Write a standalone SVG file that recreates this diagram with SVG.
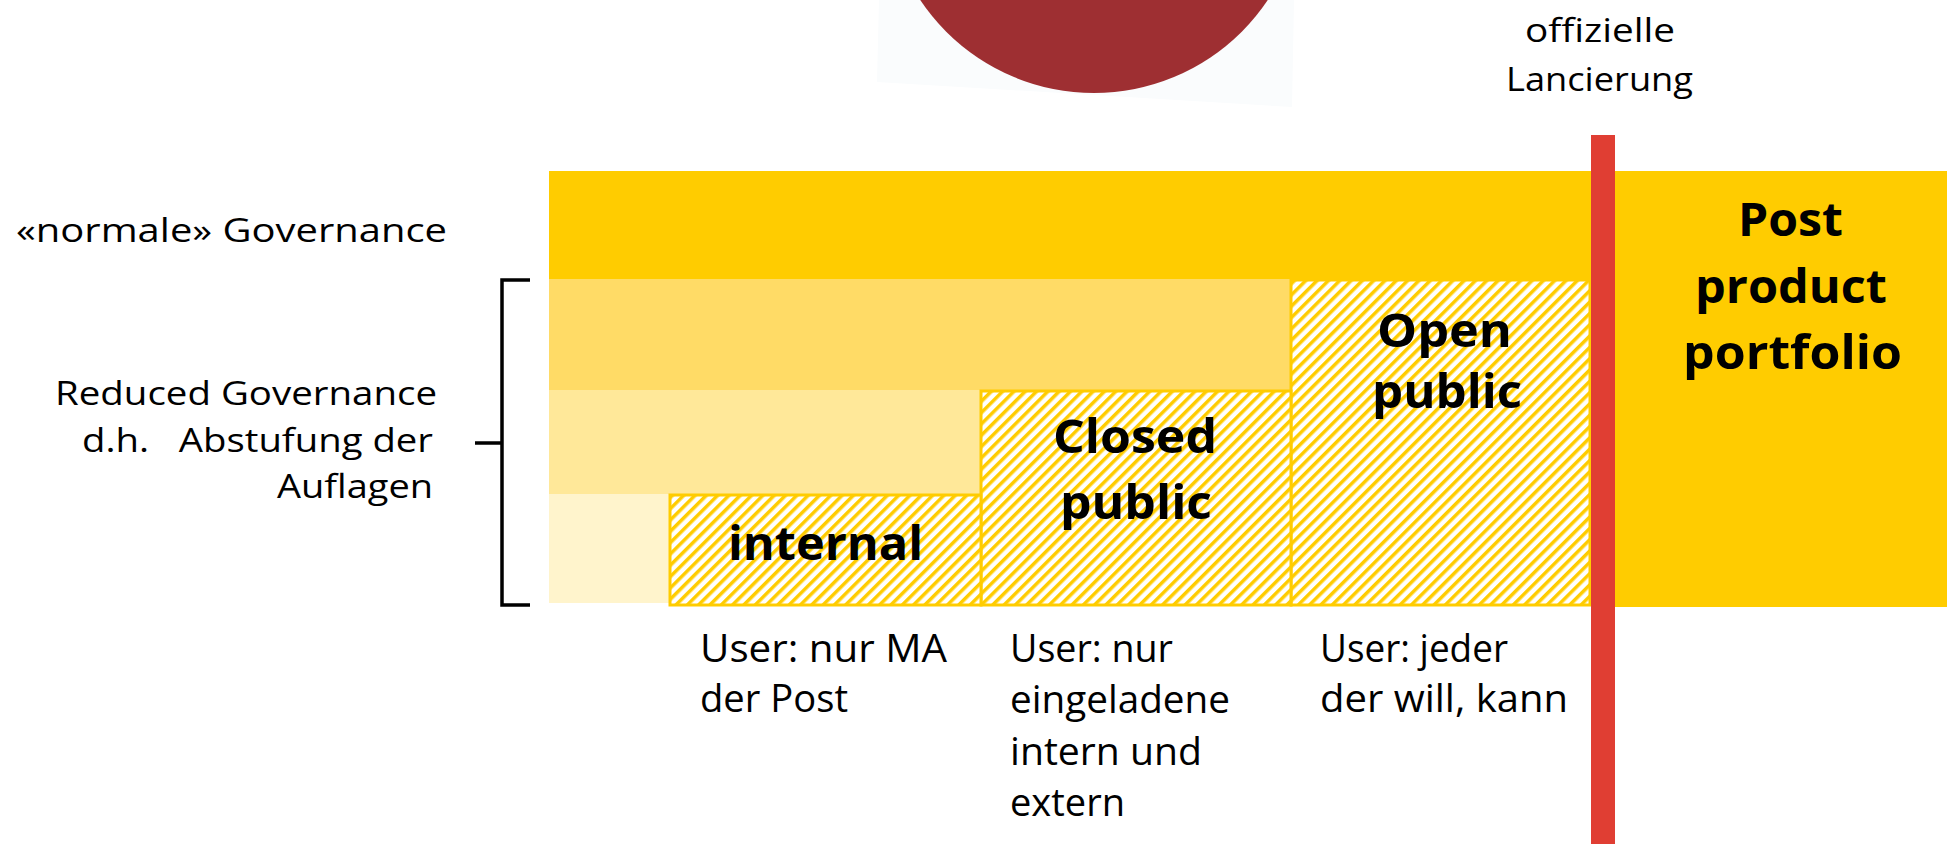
<svg xmlns="http://www.w3.org/2000/svg" width="1947" height="844" viewBox="0 0 1947 844">
<defs>
<style>
.reg{font-family:"Open Sans","Liberation Sans",sans-serif;font-weight:500;font-size:32px;fill:#000}
.usr{font-family:"Open Sans","Liberation Sans",sans-serif;font-weight:500;font-size:38px;fill:#000}
.bold{font-family:"Open Sans","Liberation Sans",sans-serif;font-weight:700;font-size:47px;fill:#000}
.hatch{fill:url(#stripes);stroke:#FFCC00;stroke-width:3}
</style>
<pattern id="stripes" patternUnits="userSpaceOnUse" width="8" height="8" patternTransform="rotate(45)">
<rect x="0" y="0" width="8" height="8" fill="#fff"/>
<rect x="0" y="0" width="3.5" height="8" fill="#FFCC00"/>
</pattern>
</defs>
<rect x="0" y="0" width="1947" height="844" fill="#fff"/>
<g id="logo">
<polygon points="879,0 1294,0 1292,107 877,82" fill="#FAFCFD"/>
<circle cx="1094" cy="-116" r="209" fill="#9E2F32"/>
</g>
<g id="bands">
<rect x="549" y="171" width="1042" height="109" fill="#FFCC00"/>
<rect x="549" y="279" width="742" height="112" fill="#FFDB66"/>
<rect x="549" y="390" width="432" height="105" fill="#FFE899"/>
<rect x="549" y="494" width="121" height="109" fill="#FFF4CC"/>
</g>
<g id="node-portfolio">
<rect x="1615" y="171" width="332" height="436" fill="#FFCC00"/>
<text class="bold" x="1738" y="236" textLength="105" lengthAdjust="spacingAndGlyphs">Post</text>
<text class="bold" x="1695" y="303" textLength="192" lengthAdjust="spacingAndGlyphs">product</text>
<text class="bold" x="1683" y="369" textLength="219" lengthAdjust="spacingAndGlyphs">portfolio</text>
</g>
<g id="node-open">
<rect class="hatch" x="1291" y="280" width="299" height="325"/>
<text class="bold" x="1377" y="347" textLength="135" lengthAdjust="spacingAndGlyphs">Open</text>
<text class="bold" x="1372" y="408" textLength="150" lengthAdjust="spacingAndGlyphs">public</text>
</g>
<g id="node-closed">
<rect class="hatch" x="981" y="391" width="310" height="214"/>
<text class="bold" x="1053" y="453" textLength="164" lengthAdjust="spacingAndGlyphs">Closed</text>
<text class="bold" x="1060" y="519" textLength="152" lengthAdjust="spacingAndGlyphs">public</text>
</g>
<g id="node-internal">
<rect class="hatch" x="670" y="495" width="311" height="110"/>
<text class="bold" font-size="50" x="728" y="560" textLength="195" lengthAdjust="spacingAndGlyphs">internal</text>
</g>
<g id="launch-line">
<rect x="1591" y="135" width="24" height="709" fill="#E03E33"/>
<text class="reg" x="1525" y="42" textLength="150" lengthAdjust="spacingAndGlyphs">offizielle</text>
<text class="reg" x="1506" y="91" textLength="187" lengthAdjust="spacingAndGlyphs">Lancierung</text>
</g>
<g id="label-normal">
<text class="reg" x="16" y="242" textLength="431" lengthAdjust="spacingAndGlyphs">«normale» Governance</text>
</g>
<g id="label-reduced">
<text class="reg" x="55" y="405" textLength="382" lengthAdjust="spacingAndGlyphs">Reduced Governance</text>
<text class="reg" x="82" y="452" textLength="351" lengthAdjust="spacingAndGlyphs" xml:space="preserve">d.h.   Abstufung der</text>
<text class="reg" x="277" y="498" textLength="156" lengthAdjust="spacingAndGlyphs">Auflagen</text>
</g>
<g id="connectors">
<path d="M530,280 H502 V605 H530 M475,443 H502" fill="none" stroke="#000" stroke-width="3.5"/>
</g>
<g id="users-internal">
<text class="usr" x="700" y="662" textLength="247" lengthAdjust="spacingAndGlyphs">User: nur MA</text>
<text class="usr" x="700" y="712" textLength="148" lengthAdjust="spacingAndGlyphs">der Post</text>
</g>
<g id="users-closed">
<text class="usr" x="1010" y="662" textLength="163" lengthAdjust="spacingAndGlyphs">User: nur</text>
<text class="usr" x="1010" y="713" textLength="220" lengthAdjust="spacingAndGlyphs">eingeladene</text>
<text class="usr" x="1010" y="765" textLength="192" lengthAdjust="spacingAndGlyphs">intern und</text>
<text class="usr" x="1010" y="816" textLength="115" lengthAdjust="spacingAndGlyphs">extern</text>
</g>
<g id="users-open">
<text class="usr" x="1320" y="662" textLength="188" lengthAdjust="spacingAndGlyphs">User: jeder</text>
<text class="usr" x="1320" y="712" textLength="248" lengthAdjust="spacingAndGlyphs">der will, kann</text>
</g>
</svg>
